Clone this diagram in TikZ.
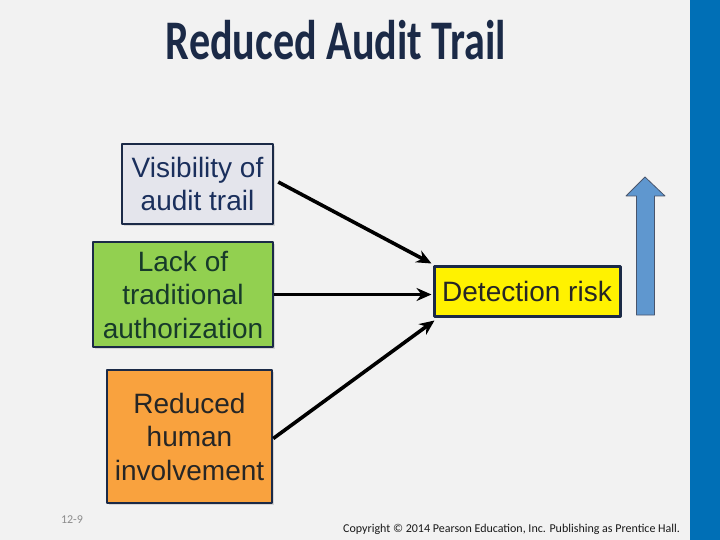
\documentclass[tikz,border=0pt]{standalone}
\usepackage{fontspec}
\setmainfont{Liberation Sans}
\newfontfamily\titlefont{Carlito}
\usetikzlibrary{arrows.meta,shadows}
\definecolor{bgray}{HTML}{F2F2F2}
\definecolor{sidebar}{HTML}{006FB6}
\definecolor{navy}{HTML}{1B2A47}
\definecolor{boxgray}{HTML}{E4E5EC}
\definecolor{boxgreen}{HTML}{92D050}
\definecolor{boxorange}{HTML}{F9A23E}
\definecolor{upblue}{HTML}{5F97CF}
\definecolor{txtblue}{HTML}{1A2F5C}
\definecolor{txtgreen}{HTML}{173A2A}
\begin{document}
\begin{tikzpicture}[x=1pt, y=-1pt, line join=round, >={Stealth[length=15pt,width=13pt]},
	factor/.style={draw=navy, line width=2.5pt, align=center, inner sep=0pt,
		font=\fontsize{28}{33.5}\selectfont, drop shadow={opacity=0.25, shadow xshift=2pt, shadow yshift=-2pt}},
	link/.style={->, line width=3.6pt, black}]
	% background and side bar
	\fill[bgray] (0,0) rectangle (720,540);
	\fill[sidebar] (690,0) rectangle (720,540);
	\useasboundingbox (0,0) rectangle (720,540);
	% title
	\node[anchor=base, text=navy] (title) at (336,60) {\scalebox{0.98}[1.3]{\titlefont\bfseries\fontsize{43}{43}\selectfont Reduced Audit Trail}};
	% causes
	\node[factor, fill=boxgray, text=txtblue, minimum width=151pt, minimum height=80pt] (vis) at (197.5,184) {Visibility of\\audit trail};
	\node[factor, fill=boxgreen, text=txtgreen, minimum width=180pt, minimum height=105pt] (auth) at (183,294.5) {Lack of\\traditional\\authorization};
	\node[factor, fill=boxorange, text=black!85, minimum width=165pt, minimum height=133pt] (human) at (189.5,436.5) {Reduced\\human\\involvement};
	% effect
	\node[factor, fill=yellow, text=black!85, line width=3pt, minimum width=186pt, minimum height=50pt] (risk) at (527,291) {Detection risk};
	\draw[link] ([xshift=4pt,yshift=2pt]vis.east) -- ([xshift=-1pt,yshift=1pt]risk.north west);
	\draw[link] (auth.east) -- ([xshift=-1pt,yshift=-3.5pt]risk.west);
	\draw[link] ([yshift=-2pt]human.east) -- ([xshift=2pt,yshift=-3pt]risk.south west);
	% rising risk
	\draw[fill=upblue, draw=navy!80, line width=0.8pt] (645,177) -- (665,196) -- (654.5,196) -- (654.5,315) -- (636.5,315) -- (636.5,196) -- (626,196) -- cycle;
	% footer
	\node[text=black!45, font=\titlefont\fontsize{12}{12}\selectfont] (slide) at (72,520) {12-9};
	\node[anchor=base west, inner sep=0pt, text=black!90, font=\titlefont\fontsize{12}{12}\selectfont] (copy) at (343,532) {Copyright © 2014 Pearson Education, Inc. Publishing as Prentice Hall.};
\end{tikzpicture}
\end{document}
